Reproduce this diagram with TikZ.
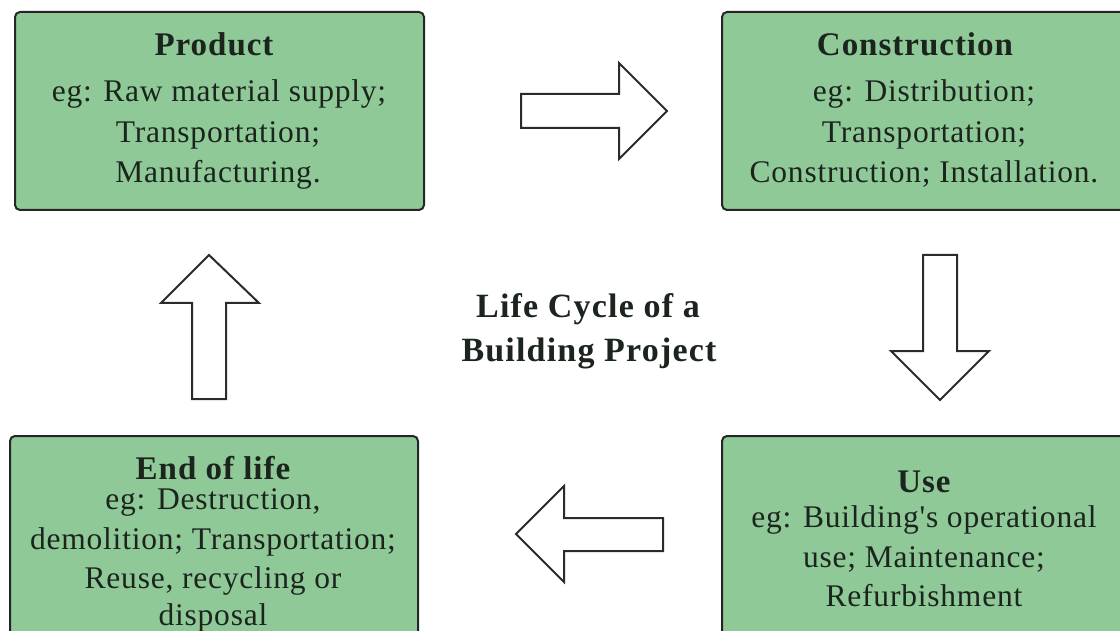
\documentclass[tikz,border=0pt]{standalone}
\usepackage{fontspec}
\setmainfont{Liberation Serif}
\newfontfamily\bodyfont[LetterSpace=2.5]{Liberation Serif}
\newfontfamily\headfont[LetterSpace=3]{Liberation Serif Bold}
\newfontfamily\titlefont[LetterSpace=3.5]{Liberation Serif Bold}
\definecolor{boxfill}{RGB}{143,201,152}
\definecolor{boxline}{RGB}{38,38,38}
\definecolor{inktext}{RGB}{28,36,30}
\definecolor{arrowline}{RGB}{43,43,43}
\begin{document}
\begin{tikzpicture}[x=1pt,y=-1pt,
  stagebox/.style={draw=boxline, line width=2pt, fill=boxfill,
    rounded corners=5pt, inner sep=0pt, anchor=north west},
  headline/.style={anchor=base, inner sep=0pt, text=inktext,
    font=\headfont\fontsize{33}{40}\selectfont},
  bodyline/.style={anchor=base, inner sep=0pt, text=inktext,
    font=\bodyfont\fontsize{31.5}{40}\selectfont},
  titleline/.style={anchor=base, inner sep=0pt, text=inktext,
    font=\titlefont\fontsize{34}{45}\selectfont},
  blockarrow/.style={draw=arrowline, line width=2pt, fill=white,
    line join=miter}]
\clip (0,0) rectangle (1120,631);
\fill[white] (0,0) rectangle (1120,631);

% stage boxes (the right and lower ones run past the page edge)
\node[stagebox, minimum width=409pt, minimum height=198pt] (product) at (14,11) {};
\node[stagebox, minimum width=409pt, minimum height=198pt] (construction) at (721,11) {};
\node[stagebox, minimum width=408pt, minimum height=215pt] (endoflife) at (9,435) {};
\node[stagebox, minimum width=409pt, minimum height=215pt] (use) at (721,435) {};

% Product
\node[headline] (productT) at (214,56) {Product};
\node[bodyline] (productA) at (219,102) {eg: Raw material supply;};
\node[bodyline] (productB) at (218,143) {Transportation;};
\node[bodyline] (productC) at (218,183) {Manufacturing.};

% Construction
\node[headline] (constructionT) at (915,56) {Construction};
\node[bodyline] (constructionA) at (924,102) {eg: Distribution;};
\node[bodyline] (constructionB) at (924,143) {Transportation;};
\node[bodyline] (constructionC) at (924,183) {Construction; Installation.};

% End of life
\node[headline] (endoflifeT) at (213,479) {End of life};
\node[bodyline] (endoflifeA) at (213,509) {eg: Destruction,};
\node[bodyline] (endoflifeB) at (213,549) {demolition; Transportation;};
\node[bodyline] (endoflifeC) at (213,588) {Reuse, recycling or};
\node[bodyline] (endoflifeD) at (213,625) {disposal};

% Use
\node[headline] (useT) at (924,492) {Use};
\node[bodyline] (useA) at (924,527) {eg: Building's operational};
\node[bodyline] (useB) at (924,567) {use; Maintenance;};
\node[bodyline] (useC) at (924,606) {Refurbishment};

% centre title
\node[titleline] (titleA) at (588,317) {Life Cycle of a};
\node[titleline] (titleB) at (589,361) {Building Project};

% block arrows between the stages
\draw[blockarrow] (521,94) -- (619,94) -- (619,63) -- (667,111) -- (619,159)
  -- (619,128) -- (521,128) -- cycle;
\draw[blockarrow] (923,255) -- (957,255) -- (957,351) -- (989,351) -- (940,400)
  -- (891,351) -- (923,351) -- cycle;
\draw[blockarrow] (663,518) -- (564,518) -- (564,486) -- (516,534) -- (564,582)
  -- (564,551) -- (663,551) -- cycle;
\draw[blockarrow] (192,399) -- (192,303) -- (161,303) -- (209,255) -- (259,303)
  -- (226,303) -- (226,399) -- cycle;
\end{tikzpicture}
\end{document}
